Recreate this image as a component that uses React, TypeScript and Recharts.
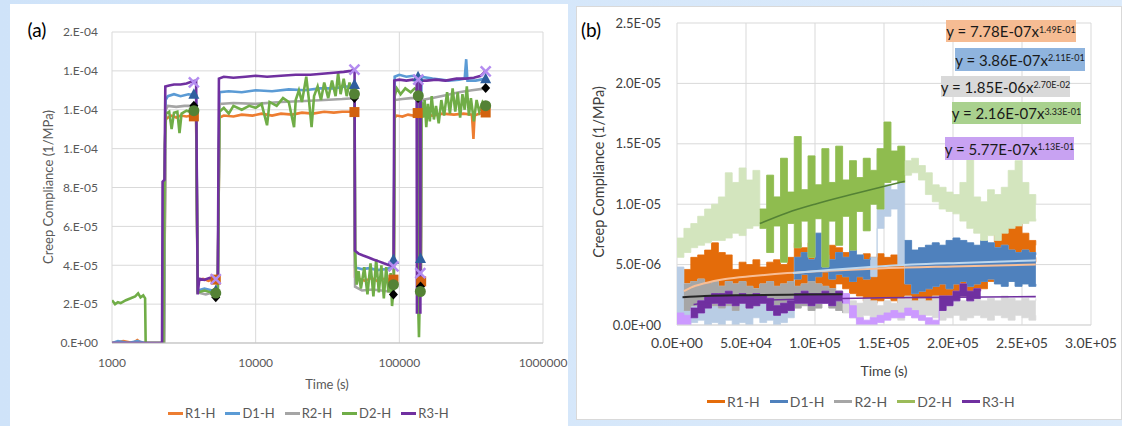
import React from "react";
import { ComposedChart, Line, Area, Scatter, XAxis, YAxis, CartesianGrid } from "recharts";

const FONT = "Lato, 'Open Sans', sans-serif";

// ---------- panel (a): log time axis, compliance in 1e-5 1/MPa ----------
const aTicksX = [1000, 10000, 100000, 1000000];
const aTicksY = [0, 2e-5, 4e-5, 6e-5, 8e-5, 1e-4, 1.2e-4, 1.4e-4, 1.6e-4];

const aR1 = [
  [1000, 0], [1200, 0.1], [1400, 0], [1500, 0.15], [1600, 0], [2300, 0],
  [2360, 11.5], [2450, 11.6], [2600, 11.7], [2800, 11.6], [3000, 11.7], [3300, 11.65], [3600, 11.7], [3850, 11.6],
  [3950, 3.2], [4300, 3.3], [4700, 3.2], [5100, 3.3], [5450, 3.3],
  [5600, 11.6], [6000, 11.7], [7000, 11.65], [8000, 11.75], [9500, 11.7], [11000, 11.8], [13000, 11.7], [15000, 11.8],
  [18000, 11.75], [21000, 11.85], [25000, 11.8], [30000, 11.9], [35000, 11.85], [40000, 11.9], [45000, 11.9], [48800, 11.9],
  [49200, 3.4], [52000, 3.3], [58000, 3.2], [64000, 3.35], [70000, 3.2], [77000, 3.3], [84000, 3.25], [91500, 3.3],
  [92800, 11.6], [96000, 11.7], [105000, 11.65], [115000, 11.75], [125000, 11.7], [133500, 11.8],
  [134500, 3.2], [141000, 3.2],
  [142500, 11.7], [150000, 11.75], [170000, 11.7], [200000, 11.8], [240000, 11.75], [280000, 11.8], [320000, 11.75],
  [328000, 10.5], [334000, 11.7], [360000, 11.8], [400000, 11.85],
];
const aD1 = [
  [1000, 0], [1100, 0.1], [1300, 0], [1500, 0.1], [1700, 0], [2300, 0],
  [2360, 12.5], [2450, 12.7], [2700, 12.8], [3000, 12.7], [3400, 12.8], [3850, 12.75],
  [3950, 2.7], [4400, 2.8], [5000, 2.7], [5450, 2.8],
  [5600, 12.9], [6500, 12.95], [8000, 12.9], [10000, 13.0], [13000, 12.95], [17000, 13.05], [22000, 13.0], [28000, 13.1],
  [35000, 13.1], [42000, 13.2], [48800, 13.2],
  [49200, 3.9], [55000, 3.8], [62000, 3.85], [70000, 3.75], [80000, 3.8], [91500, 3.9],
  [92800, 13.7], [100000, 13.8], [112000, 13.7], [125000, 13.75], [133500, 13.7],
  [134500, 4.3], [141000, 4.3],
  [142500, 13.7], [170000, 13.6], [220000, 13.5], [260000, 13.55], [285000, 13.6], [292000, 14.6], [298000, 13.5],
  [340000, 13.5], [400000, 13.6],
];
const aR2 = [
  [1000, 0], [2300, 0],
  [2360, 12.0], [2450, 12.2], [2800, 12.15], [3200, 12.2], [3850, 12.2],
  [3950, 2.6], [4500, 2.5], [5000, 2.6], [5450, 2.5],
  [5600, 12.3], [7000, 12.35], [10000, 12.3], [15000, 12.4], [22000, 12.45], [30000, 12.5], [40000, 12.55], [48800, 12.6],
  [49200, 2.9], [55000, 2.7], [65000, 2.75], [75000, 2.7], [85000, 2.65], [91500, 2.6],
  [92800, 12.5], [105000, 12.55], [120000, 12.6], [133500, 12.6],
  [134500, 2.9], [141000, 2.9],
  [142500, 12.5], [170000, 12.6], [210000, 12.75], [260000, 12.9], [320000, 13.0], [400000, 13.1],
];
const aD2 = [
  [1000, 2.2], [1050, 2.0], [1100, 2.1], [1150, 2.05], [1250, 2.2], [1350, 2.3], [1450, 2.4], [1520, 2.55],
  [1580, 2.35], [1650, 2.45], [1700, 2.3], [1715, 0], [2280, 0],
  [2330, 10.2], [2380, 11.8], [2500, 11.9], [2600, 11.0], [2700, 11.85], [2850, 11.9], [2950, 10.8], [3050, 11.8],
  [3300, 11.95], [3500, 11.9], [3850, 11.95],
  [3900, 6.8], [3950, 2.6], [4400, 2.7], [4900, 2.6], [5450, 2.7],
  [5600, 11.9], [6000, 12.1], [6500, 11.8], [7000, 12.2], [8000, 12.0], [9000, 12.2], [10000, 12.1], [11000, 12.3],
  [12000, 11.2], [12500, 12.4], [14000, 12.2], [15500, 12.6], [17000, 12.4], [18500, 11.1], [19000, 12.5], [20000, 13.0],
  [21000, 12.4], [22500, 13.7], [23500, 12.5], [24500, 11.1], [25500, 12.7], [27000, 13.2], [28500, 12.5], [30000, 13.4],
  [32000, 12.6], [34000, 13.5], [36000, 12.7], [37500, 13.9], [39000, 12.8], [41000, 13.6], [43000, 12.7], [45000, 13.4],
  [47000, 12.9], [48800, 13.0],
  [49200, 4.6], [50500, 3.0], [52000, 3.7], [54000, 2.8], [57000, 3.9], [60000, 2.5], [63000, 4.1], [66000, 2.4],
  [69000, 4.3], [72000, 2.6], [75000, 4.0], [78000, 2.3], [81000, 3.9], [84000, 2.6], [87000, 3.6], [89000, 1.9], [91500, 3.0],
  [92800, 12.7], [96000, 13.1], [102000, 12.8], [110000, 13.1], [120000, 12.9], [128000, 13.1], [133500, 13.0],
  [134500, 2.7], [137000, 0.3], [139000, 2.7], [141000, 2.6],
  [142500, 12.4], [146000, 11.6], [150000, 12.5], [154000, 11.1], [158000, 12.3], [163000, 11.4], [168000, 12.7],
  [174000, 11.5], [180000, 12.2], [188000, 11.3], [196000, 12.5], [205000, 11.7], [215000, 12.9], [225000, 11.8],
  [235000, 13.1], [245000, 11.9], [255000, 12.9], [265000, 11.6], [275000, 12.8], [285000, 12.0], [295000, 13.2],
  [305000, 11.7], [315000, 12.6], [330000, 11.4], [345000, 12.5], [360000, 11.9], [380000, 12.4], [400000, 12.2],
];
const aR3 = [
  [1000, 0], [2230, 0], [2250, 8.3], [2320, 8.4], [2350, 13.2], [2500, 13.25], [2700, 13.3], [3000, 13.3],
  [3300, 13.35], [3600, 13.45], [3850, 13.5],
  [3950, 2.5], [4050, 3.3], [4400, 3.25], [4800, 3.35], [5200, 3.3], [5450, 3.35],
  [5550, 13.6], [6000, 13.7], [7000, 13.65], [8500, 13.7], [10000, 13.75], [12000, 13.7], [15000, 13.75], [19000, 13.8],
  [24000, 13.8], [29000, 13.85], [35000, 13.9], [41000, 13.95], [46000, 14.0], [48800, 14.05],
  [49100, 4.75], [52000, 4.6], [56000, 4.5], [61000, 4.4], [66000, 4.3], [72000, 4.2], [78000, 4.1], [85000, 4.0], [91200, 3.95],
  [92200, 13.5], [100000, 13.55], [112000, 13.5], [124000, 13.55], [132000, 13.5],
  [132600, 1.5], [133200, 13.5], [139500, 13.5], [140100, 1.5], [140700, 13.5],
  [155000, 13.5], [180000, 13.55], [210000, 13.5], [250000, 13.6], [290000, 13.6], [330000, 13.65], [370000, 13.75], [400000, 14.0],
];

// end-of-step markers
const aR1Marks = [[3714, 11.66], [5276, 3.26], [48700, 11.88], [91000, 3.26], [134200, 11.83], [141900, 3.17], [399000, 11.86]];
const aD1Marks = [[3714, 12.8], [5276, 2.7], [48700, 13.3], [91000, 4.29], [135000, 13.7], [140500, 4.35], [399000, 13.6]];
const aR2Marks = [[3714, 12.2], [5276, 2.35], [48700, 12.6], [91000, 2.49], [135000, 12.6], [140500, 2.91], [399000, 13.12]];
const aD2Marks = [[3714, 11.95], [5276, 2.57], [48700, 12.81], [91000, 3.0], [135500, 12.72], [140000, 2.65], [399000, 12.21]];
const aR3Marks = [[3714, 13.41], [5276, 3.29], [48700, 14.06], [91000, 3.94], [135500, 13.55], [140000, 3.6], [399000, 13.97]];

const names = ["R1-H", "D1-H", "R2-H", "D2-H", "R3-H"];
const aColors = ["#ED7D31", "#5B9BD5", "#A5A5A5", "#70AD47", "#7030A0"];

// ---------- panel (b): linear time axis, compliance in 1e-6 1/MPa ----------
const bTicksX = [0, 50000, 100000, 150000, 200000, 250000, 300000];
const bTicksY = [0, 5e-6, 1e-5, 1.5e-5, 2e-5, 2.5e-5];

// time grid in 1e3 s
const bT = [
  0, 5, 10, 15, 20, 25, 30, 35, 40, 45, 50, 55, 60, 65, 70, 75, 80, 85, 90, 95, 100, 105, 110, 115, 120, 125,
  130, 135, 140, 145, 150, 155, 160, 165, 170, 175, 180, 185, 190, 195, 200, 205, 210, 215, 220, 225, 230, 235,
  240, 245, 250, 255, 260,
];
// noisy signals drawn as low/high envelopes on that grid
const bR1Lo = [
  null, 2.4, 2.2, 2.0, 2.2, 2.4, 1.8, 1.2, 1.6, 1.0, 1.2, 1.0, 1.4, 1.6, 2.0, 1.8, 2.4, 3.0, 3.2, 3.0, 3.4, 3.2, 3.0,
  3.4, 3.0, 2.6, 2.4, 2.0, 1.8, 2.0, 2.2, 2.0, 1.8, 1.6, 1.0, 1.2, 1.0, 1.4, 2.0, 2.4, 2.6, 2.4, 2.6, 2.8, 3.0, 3.6,
  4.4, 5.0, 5.2, 5.0, 5.4, 5.2, 5.6,
];
const bR1Hi = [
  null, 4.6, 5.6, 5.8, 6.2, 6.8, 6.0, 5.8, 4.6, 5.2, 5.0, 5.4, 4.8, 5.2, 5.4, 5.0, 5.6, 6.8, 6.4, 6.8, 6.6, 6.2, 6.6,
  6.4, 6.0, 5.8, 5.6, 5.9, 5.6, 5.9, 5.6, 5.8, 5.6, 4.2, 3.8, 3.6, 3.4, 4.0, 4.6, 4.4, 4.4, 4.2, 4.4, 4.2, 5.2, 6.0,
  7.4, 7.8, 10.0, 8.4, 7.6, 7.0, 6.6,
];
const bD1Lo = [
  0.2, 0.0, 0.2, 0.4, 0.0, 0.2, 0.0, 0.4, 0.0, 0.2, 0.0, 0.6, 0.2, 0.4, 0.0, 0.2, 0.6, 3.8, 4.2, 3.6, 4.0, 4.4, 3.8,
  4.2, 4.0, 3.6, 4.0, 3.8, 4.0, 8.0, 9.0, 9.6, 5.0, 3.4, 2.6, 2.8, 3.0, 3.2, 3.4, 3.0, 3.4, 3.6, 3.2, 3.4, 3.6, 3.8,
  3.4, 3.2, 3.6, 3.2, 3.4, 3.2, 3.4,
];
const bD1Hi = [
  4.8, 3.4, 2.6, 3.0, 2.4, 2.8, 3.2, 2.6, 2.2, 3.0, 2.4, 2.8, 2.6, 3.0, 2.4, 2.8, 3.4, 5.6, 6.0, 5.4, 7.6, 5.8, 5.4,
  6.0, 5.6, 6.2, 5.8, 5.4, 5.6, 14.2, 11.6, 11.2, 12.0, 7.0, 6.2, 6.4, 6.6, 6.8, 6.6, 7.0, 7.2, 7.0, 6.8, 6.6, 7.0,
  6.8, 6.4, 6.6, 6.2, 6.0, 6.2, 6.0, 5.8,
];
const bR2Lo = [
  null, 1.2, 1.6, 1.4, 1.8, 1.6, 1.4, 1.6, 1.2, 1.8, 1.4, 1.6, 1.8, 1.4, 1.2, 1.6, 1.8, 1.4, 1.6, 1.2, 1.4, 1.8, 1.4,
  1.2, 1.0, 0.6, 0.4, 0.8, 0.6, 0.4, 0.8, 0.6, 0.4, 0.8, 0.6, 0.4, 0.8, 0.6, 0.4, 0.6, 0.8, 0.4, 0.6, 0.8, 0.6, 0.4,
  0.8, 0.6, 0.4, 0.8, 0.6, 0.4, 0.8,
];
const bR2Hi = [
  null, 3.4, 3.6, 3.8, 3.4, 3.6, 3.2, 3.6, 3.4, 3.6, 3.2, 3.0, 3.4, 3.6, 3.2, 3.4, 3.6, 3.2, 3.4, 3.6, 3.4, 3.2, 3.0,
  2.8, 2.6, 2.0, 1.8, 2.2, 2.0, 1.6, 2.0, 1.8, 2.2, 2.4, 2.0, 2.2, 2.0, 2.4, 2.2, 2.0, 2.2, 2.0, 2.4, 2.2, 2.0, 2.2,
  2.0, 2.4, 2.2, 2.0, 2.2, 2.0, 2.2,
];
const bD2Lo = [
  5.6, 6.0, 6.4, 6.6, 6.8, 7.0, 7.0, 7.2, 7.6, 7.4, 8.0, 8.2, 8.0, 6.0, 8.2, 5.2, 8.4, 6.4, 8.6, 5.6, 8.8, 4.8, 8.6,
  6.6, 9.0, 6.2, 9.4, 7.8, 10.0, 9.6, 11.8, 12.0, 11.8, 12.4, 12.6, 12.0, 10.8, 10.2, 9.6, 9.4, 9.2, 8.6, 8.0, 7.6,
  7.0, 7.4, 7.0, 7.6, 8.0, 8.2, 8.4, 8.6, 8.8,
];
const bD2Hi = [
  7.2, 8.0, 8.4, 9.0, 9.6, 10.0, 10.6, 12.6, 11.8, 13.0, 12.0, 12.8, 9.6, 12.4, 10.6, 13.8, 11.0, 15.6, 11.2, 14.0,
  11.6, 14.6, 11.8, 14.8, 12.0, 13.6, 12.2, 13.8, 12.8, 14.6, 16.8, 14.4, 14.8, 13.6, 13.8, 13.2, 12.6, 11.6, 11.4,
  11.0, 10.8, 11.8, 13.8, 10.6, 10.2, 11.2, 10.8, 11.4, 12.8, 13.6, 11.8, 10.8, 10.0,
];
const bR3Lo = [
  0.0, 0.0, 0.6, 1.0, 1.4, 1.8, 1.6, 1.8, 1.6, 1.8, 1.4, 1.6, 1.8, 1.2, 0.8, 1.0, 1.2, 1.8, 1.8, 1.6, 1.8, 1.8, 1.6,
  2.0, 1.8, 0.6, 0.0, 0.0, 0.0, 0.2, 0.4, 0.6, 0.6, 0.8, 0.6, 0.4, 0.0, 0.0, 1.2, 1.6, 2.0, 2.4, 2.0, 2.2, 2.2,
  null, null, null, null, null, null, null, null,
];
const bR3Hi = [
  1.0, 0.8, 1.4, 2.0, 2.4, 2.6, 2.6, 2.8, 2.4, 2.6, 2.4, 2.6, 2.4, 2.2, 1.6, 1.8, 2.0, 2.6, 2.8, 2.6, 2.6, 2.8, 2.6,
  2.8, 2.6, 1.6, 0.6, 0.4, 0.6, 0.8, 1.0, 1.2, 1.0, 1.4, 1.2, 0.8, 0.6, 0.4, 2.4, 2.4, 2.8, 3.4, 2.8, 3.0, 2.8,
  null, null, null, null, null, null, null, null,
];

// portions used for the power-law fits (1e3 s), drawn in full colour
const bR1Fit = [[5, 260]];
const bD1Fit = [[85, 140], [165, 260]];
const bR2Fit = [[5, 120]];
const bD2Fit = [[60, 165]];
const bR3Fit = [[10, 120], [190, 220]];

// trend lines: [1e3 s, 1e-6]
const bR1Trend = [[5, 2.8], [10, 3.1], [20, 3.45], [35, 3.8], [55, 4.05], [80, 4.3], [110, 4.5], [150, 4.7], [200, 4.85], [260, 5.0]];
const bD1Trend = [[84, 4.3], [110, 4.55], [140, 4.8], [170, 5.0], [210, 5.15], [260, 5.35]];
const bR2Trend = [[4, 2.3], [20, 2.4], [50, 2.47], [90, 2.52], [120, 2.55]];
const bD2Trend = [[60, 8.4], [80, 9.3], [100, 10.0], [130, 10.9], [165, 11.9]];
const bR3Trend = [[12, 1.7], [30, 1.9], [60, 2.05], [100, 2.15], [150, 2.25], [200, 2.3], [260, 2.35]];

const eqCoef = ["7.78E-07", "3.86E-07", "1.85E-06", "2.16E-07", "5.77E-07"];
const eqPow = ["1.49E-01", "2.11E-01", "2.70E-02", "3.33E-01", "1.13E-01"];

const bColors = ["#E46C0A", "#4F81BD", "#A6A6A6", "#8FBC4F", "#7030A0"];
const bFaded = ["#F9CBAA", "#B9CDE5", "#D9D9D9", "#D3E5BE", "#CC99FF"];
const bLegend = ["#E46C0A", "#4F81BD", "#A6A6A6", "#9BBB59", "#7030A0"];

// ---------- helpers ----------
const pts = (arr: number[][], s: number) => arr.map(([t, v]) => ({ t, v: v * s }));
const inFit = (t: number, fit: number[][]) => fit.some(([a, b]) => t >= a && t <= b);
const band = (lo: (number | null)[], hi: (number | null)[], fit?: number[][]) =>
  bT.map((t, i) => ({
    t: t * 1000,
    r:
      lo[i] == null || hi[i] == null || (fit && !inFit(t, fit))
        ? null
        : [(lo[i] as number) * 1e-6, (hi[i] as number) * 1e-6],
  }));
const trend = (arr: number[][]) => arr.map(([t, v]) => ({ t: t * 1000, v: v * 1e-6 }));

const expLabel = (v: number, digits: number) => {
  const [m, e] = v.toExponential(digits).split("e");
  const n = Number(e);
  return `${digits === 0 ? m + "." : m}E${n < 0 ? "-" : "+"}${String(Math.abs(n)).padStart(2, "0")}`;
};

const square = (p: any) => <rect x={p.cx - 5} y={p.cy - 5} width={10} height={10} fill="#D2620F" />;
const triangle = (p: any) => (
  <path d={`M${p.cx},${p.cy - 6}L${p.cx + 5.5},${p.cy + 4.5}L${p.cx - 5.5},${p.cy + 4.5}Z`} fill="#2E5F9E" />
);
const diamond = (p: any) => (
  <path d={`M${p.cx},${p.cy - 5}L${p.cx + 4.5},${p.cy}L${p.cx},${p.cy + 5}L${p.cx - 4.5},${p.cy}Z`} fill="#000" />
);
const circle = (p: any) => <circle cx={p.cx} cy={p.cy} r={5.5} fill="#548235" />;
const cross = (p: any) => (
  <path
    d={`M${p.cx - 5},${p.cy - 5}L${p.cx + 5},${p.cy + 5}M${p.cx + 5},${p.cy - 5}L${p.cx - 5},${p.cy + 5}`}
    stroke="#B48CF0"
    strokeWidth={2.5}
  />
);

const center = (x: number, y: number, extra: React.CSSProperties = {}): React.CSSProperties => ({
  position: "absolute",
  left: x,
  top: y,
  transform: "translate(-50%, -50%)",
  whiteSpace: "nowrap",
  ...extra,
});

function Legend({ colors, left, top, size, line }: { colors: string[]; left: number; top: number; size: number; line: number }) {
  return (
    <div style={{ position: "absolute", left, top, display: "flex", gap: 10, alignItems: "center", color: "#595959", fontSize: size }}>
      {names.map((n, i) => (
        <div key={n} style={{ display: "flex", alignItems: "center", gap: 2 }}>
          <div style={{ width: line, height: 3, background: colors[i] }} />
          <span>{n}</span>
        </div>
      ))}
    </div>
  );
}

function PanelA() {
  const lines = [aR1, aD1, aR2, aD2, aR3];
  const marks = [aR1Marks, aD1Marks, aR2Marks, aD2Marks, aR3Marks];
  const shapes = [square, triangle, diamond, circle, cross];
  const tick = { fill: "#595959", fontSize: 12, fontFamily: FONT };
  return (
    <div style={{ position: "absolute", left: 10, top: 4, width: 558, height: 422, background: "#fff" }}>
      <ComposedChart width={558} height={422} margin={{ top: 28, right: 25, bottom: 53, left: 42 }}>
        <CartesianGrid stroke="#d9d9d9" />
        <XAxis
          type="number"
          dataKey="t"
          scale="log"
          domain={[1000, 1000000]}
          ticks={aTicksX}
          allowDataOverflow
          height={30}
          tick={tick}
          tickLine={false}
          tickMargin={9}
          axisLine={{ stroke: "#bfbfbf" }}
        />
        <YAxis
          type="number"
          dataKey="v"
          domain={[0, 1.6e-4]}
          ticks={aTicksY}
          allowDataOverflow
          width={60}
          tick={tick}
          tickLine={false}
          tickMargin={8}
          axisLine={false}
          tickFormatter={(v: number) => expLabel(v, 0)}
        />
        {lines.map((l, i) => (
          <Line
            key={names[i]}
            data={pts(l, 1e-5)}
            dataKey="v"
            type="linear"
            stroke={aColors[i]}
            strokeWidth={2.6}
            dot={false}
            activeDot={false}
            isAnimationActive={false}
          />
        ))}
        {marks.map((m, i) => (
          <Scatter key={"m" + names[i]} data={pts(m, 1e-5)} dataKey="v" shape={shapes[i]} isAnimationActive={false} />
        ))}
      </ComposedChart>
      <div style={center(27, 25, { fontSize: 19, color: "#000" })}>(a)</div>
      <div style={center(38, 183, { fontSize: 13, color: "#595959", transform: "translate(-50%, -50%) rotate(-90deg)" })}>
        Creep Compliance (1/MPa)
      </div>
      <div style={center(317, 380, { fontSize: 13, color: "#595959" })}>Time (s)</div>
      <Legend colors={aColors} left={158} top={401} size={13} line={15} />
    </div>
  );
}

function PanelB() {
  const los = [bR1Lo, bD1Lo, bR2Lo, bD2Lo, bR3Lo];
  const his = [bR1Hi, bD1Hi, bR2Hi, bD2Hi, bR3Hi];
  const fits = [bR1Fit, bD1Fit, bR2Fit, bD2Fit, bR3Fit];
  const trends = [bR1Trend, bD1Trend, bR2Trend, bD2Trend, bR3Trend];
  const trendColors = ["#F8BE96", "#BDD7EE", "#262626", "#548235", "#7030A0"];
  const trendWidths = [2, 2, 2, 1.6, 1.6];
  const tickY = { fill: "#404040", fontSize: 13, fontFamily: FONT };
  const tickX = { fill: "#404040", fontSize: 14, fontFamily: FONT };
  const boxes = [
    { left: 370, top: 14, width: 130, height: 22, bg: "#F6BC93" },
    { left: 379, top: 42, width: 130, height: 23, bg: "#8FB4DE" },
    { left: 365, top: 70, width: 129, height: 21, bg: "#D9D9D9" },
    { left: 376, top: 96, width: 129, height: 22, bg: "#A9D18E" },
    { left: 369, top: 131, width: 129, height: 23, bg: "#C8A2F2" },
  ];
  const areaProps = {
    dataKey: "r",
    type: "stepAfter" as const,
    strokeWidth: 0.8,
    fillOpacity: 1,
    dot: false,
    activeDot: false,
    isAnimationActive: false,
  };
  return (
    <div
      style={{
        position: "absolute",
        left: 576,
        top: 6,
        width: 546,
        height: 414,
        background: "#fff",
        boxShadow: "inset 0 0 0 1px #d9d9d9",
      }}
    >
      <ComposedChart width={546} height={414} margin={{ top: 17, right: 31, bottom: 65, left: 31 }}>
        <CartesianGrid stroke="#d9d9d9" />
        <XAxis
          type="number"
          dataKey="t"
          domain={[0, 300000]}
          ticks={bTicksX}
          allowDataOverflow
          height={30}
          tick={tickX}
          tickLine={false}
          tickMargin={7}
          axisLine={{ stroke: "#d9d9d9" }}
          tickFormatter={(v: number) => expLabel(v, 1)}
        />
        <YAxis
          type="number"
          domain={[0, 2.5e-5]}
          ticks={bTicksY}
          allowDataOverflow
          width={70}
          tick={tickY}
          tickLine={false}
          tickMargin={10}
          axisLine={false}
          tickFormatter={(v: number) => expLabel(v, 1)}
        />
        {los.flatMap((lo, i) => [
          i === 0 ? null : (
            <Area key={"f" + names[i]} {...areaProps} data={band(lo, his[i])} stroke={bFaded[i]} fill={bFaded[i]} />
          ),
          <Area
            key={"s" + names[i]}
            {...areaProps}
            data={band(lo, his[i], fits[i])}
            stroke={bColors[i]}
            fill={bColors[i]}
          />,
        ])}
        {trends.map((tr, i) => (
          <Line
            key={"t" + names[i]}
            data={trend(tr)}
            dataKey="v"
            type="monotone"
            stroke={trendColors[i]}
            strokeWidth={trendWidths[i]}
            dot={false}
            activeDot={false}
            isAnimationActive={false}
          />
        ))}
      </ComposedChart>
      {boxes.map((b, i) => (
        <div
          key={i}
          style={{
            position: "absolute",
            left: b.left,
            top: b.top,
            width: b.width,
            height: b.height,
            background: b.bg,
            display: "flex",
            alignItems: "center",
            justifyContent: "center",
            fontSize: 15,
            color: "#1a1a1a",
            whiteSpace: "nowrap",
          }}
        >
          y = {eqCoef[i]}x<sup style={{ fontSize: 9, position: "relative", top: -2 }}>{eqPow[i]}</sup>
        </div>
      ))}
      <div style={center(15, 23, { fontSize: 19, color: "#000" })}>(b)</div>
      <div style={center(22, 166, { fontSize: 14.5, color: "#404040", transform: "translate(-50%, -50%) rotate(-90deg)" })}>
        Creep Compliance (1/MPa)
      </div>
      <div style={center(308, 364, { fontSize: 14, color: "#404040" })}>Time (s)</div>
      <Legend colors={bLegend} left={131} top={387} size={14} line={18} />
    </div>
  );
}

export default function App() {
  return (
    <div
      style={{
        position: "fixed",
        left: 0,
        top: 0,
        width: 1122,
        height: 426,
        overflow: "hidden",
        background: "linear-gradient(90deg, #cfe3f9, #dcebfb)",
        fontFamily: FONT,
      }}
    >
      <PanelA />
      <PanelB />
    </div>
  );
}
